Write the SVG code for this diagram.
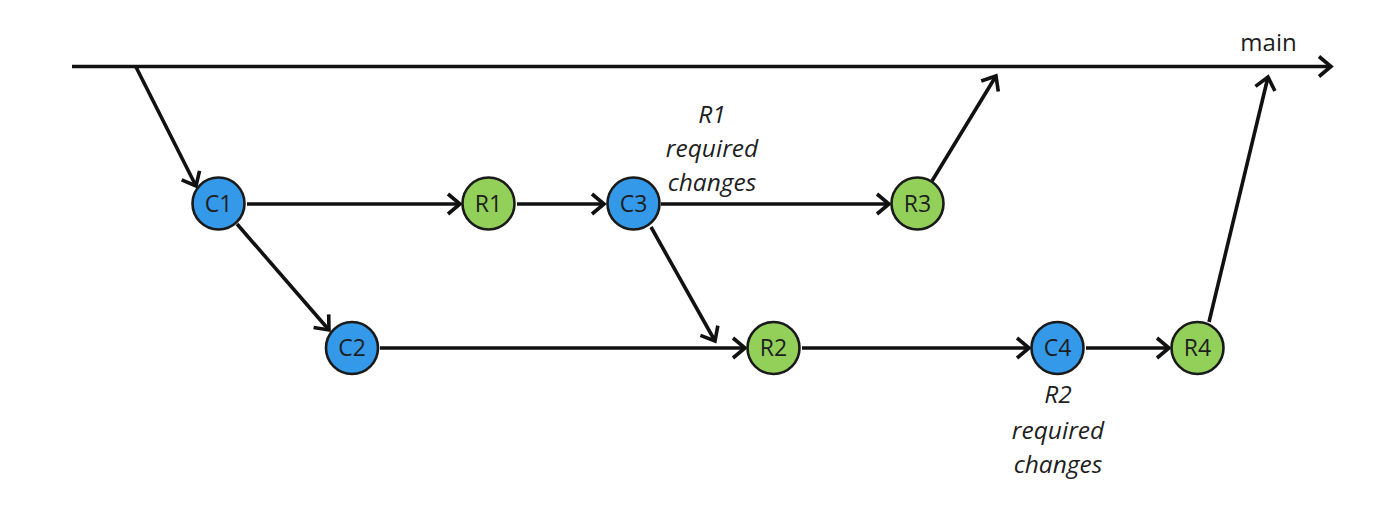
<svg xmlns="http://www.w3.org/2000/svg" width="1400" height="516" viewBox="0 0 1400 516">
<defs>
<marker id="arr" viewBox="-16 -12 20 24" markerWidth="20" markerHeight="24" refX="0" refY="0" orient="auto" markerUnits="userSpaceOnUse">
<path d="M-12,-10 L0,0 L-12,10" fill="none" stroke="#111" stroke-width="3.6" stroke-linecap="butt" stroke-linejoin="miter"/>
</marker>
<style>
.edge{stroke:#111;stroke-width:3.6;fill:none;marker-end:url(#arr)}
.c{fill:#3399e8;stroke:#1a1a1a;stroke-width:2.6}
.r{fill:#92d05a;stroke:#1a1a1a;stroke-width:2.6}
.t{font-family:"Open Sans","Liberation Sans",sans-serif;font-size:23px;fill:#1e1e1e;text-anchor:middle}
.lbl{font-family:"Open Sans","Liberation Sans",sans-serif;font-size:24.5px;font-style:italic;fill:#1e1e1e;text-anchor:middle}
</style>
</defs>
<rect width="1400" height="516" fill="#fff"/>
<g id="connectors">
<path class="edge" d="M72,66.5 L1331,66.5"/>
<path class="edge" d="M136,67 L196,186"/>
<path class="edge" d="M247,204 L460,204"/>
<path class="edge" d="M517,204 L604,204"/>
<path class="edge" d="M661,204 L889,204"/>
<path class="edge" d="M932,181 L996,76"/>
<path class="edge" d="M237,224 L329,330"/>
<path class="edge" d="M380,348 L745,348"/>
<path class="edge" d="M651,227 L715,341"/>
<path class="edge" d="M802,348 L1029,348"/>
<path class="edge" d="M1086,348 L1169,348"/>
<path class="edge" d="M1209,322 L1268,77"/>
</g>
<g id="main-label"><text class="t" x="1268.5" y="51" style="font-size:24px">main</text></g>
<g id="C1"><circle class="c" cx="218.5" cy="203.5" r="26"/><text class="t" x="218.5" y="211.5">C1</text></g>
<g id="R1"><circle class="r" cx="488.5" cy="203.5" r="26"/><text class="t" x="488.5" y="211.5">R1</text></g>
<g id="C3"><circle class="c" cx="633.5" cy="203.5" r="26"/><text class="t" x="633.5" y="211.5">C3</text></g>
<g id="R3"><circle class="r" cx="917.5" cy="203.5" r="26"/><text class="t" x="917.5" y="211.5">R3</text></g>
<g id="C2"><circle class="c" cx="352" cy="348" r="26"/><text class="t" x="352" y="356">C2</text></g>
<g id="R2"><circle class="r" cx="773.5" cy="348" r="26"/><text class="t" x="773.5" y="356">R2</text></g>
<g id="C4"><circle class="c" cx="1057.5" cy="348" r="26"/><text class="t" x="1057.5" y="356">C4</text></g>
<g id="R4"><circle class="r" cx="1197.5" cy="348" r="26"/><text class="t" x="1197.5" y="356">R4</text></g>
<g id="label-R1">
<text class="lbl" x="712" y="123">R1</text>
<text class="lbl" x="712" y="157">required</text>
<text class="lbl" x="712" y="191">changes</text>
</g>
<g id="label-R2">
<text class="lbl" x="1058" y="403">R2</text>
<text class="lbl" x="1058" y="439">required</text>
<text class="lbl" x="1058" y="473">changes</text>
</g>
</svg>
